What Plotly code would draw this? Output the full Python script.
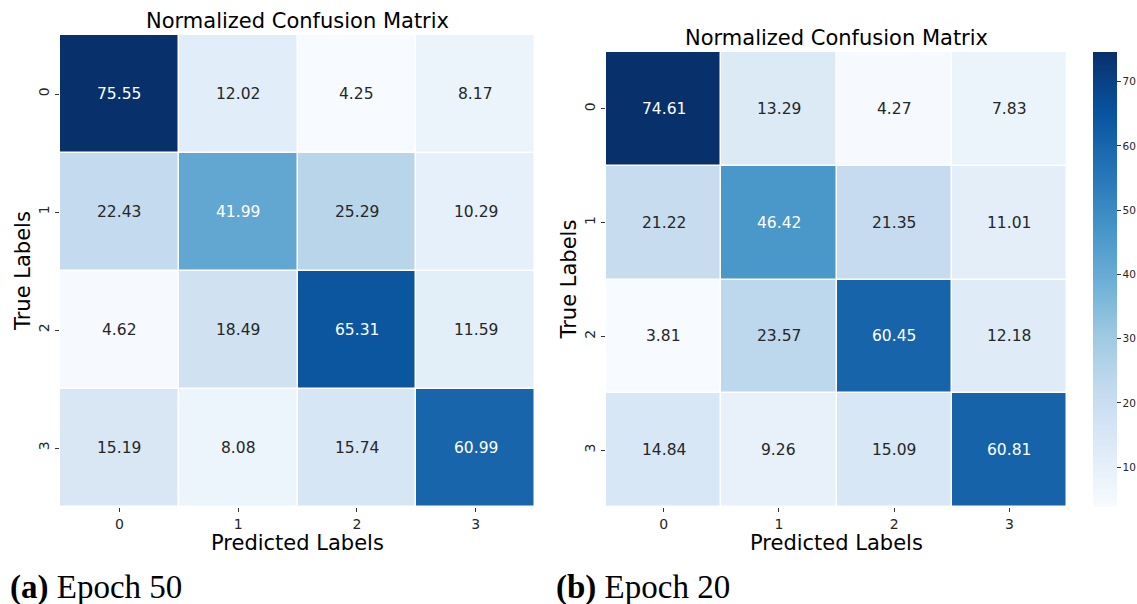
import plotly.graph_objects as go

# Class labels shared by both matrices
classes = ["0", "1", "2", "3"]

# Row-normalised confusion matrices (percent), rows = true label, cols = predicted
cm_epoch50 = [
    [75.55, 12.02, 4.25, 8.17],
    [22.43, 41.99, 25.29, 10.29],
    [4.62, 18.49, 65.31, 11.59],
    [15.19, 8.08, 15.74, 60.99],
]
cm_epoch20 = [
    [74.61, 13.29, 4.27, 7.83],
    [21.22, 46.42, 21.35, 11.01],
    [3.81, 23.57, 60.45, 12.18],
    [14.84, 9.26, 15.09, 60.81],
]

captions = ["<b>(a)</b> Epoch 50", "<b>(b)</b> Epoch 20"]
colorbar_ticks = [10, 20, 30, 40, 50, 60, 70]

# ColorBrewer "Blues" (same stops matplotlib uses)
blues = [
    [0.000, "rgb(247,251,255)"],
    [0.125, "rgb(222,235,247)"],
    [0.250, "rgb(198,219,239)"],
    [0.375, "rgb(158,202,225)"],
    [0.500, "rgb(107,174,214)"],
    [0.625, "rgb(66,146,198)"],
    [0.750, "rgb(33,113,181)"],
    [0.875, "rgb(8,81,156)"],
    [1.000, "rgb(8,48,107)"],
]

W, H = 1137, 604
FONT = "DejaVu Sans"


def px_x(v):
    return v / W


def px_y(v):
    return 1 - v / H


# pixel boxes of each heatmap: (left, right, top, bottom) and title centre y
boxes = [(60, 535, 35, 507), (606, 1067, 52, 507)]
title_y = [21, 38]
mats = [cm_epoch50, cm_epoch20]

fig = go.Figure()
annotations = []

for i, (m, box) in enumerate(zip(mats, boxes)):
    flat = [v for row in m for v in row]
    zmin, zmax = min(flat), max(flat)
    xa = "x" if i == 0 else "x2"
    ya = "y" if i == 0 else "y2"
    show_cb = i == 1
    fig.add_trace(go.Heatmap(
        z=m, x=classes, y=classes,
        colorscale=blues, zmin=zmin, zmax=zmax,
        xgap=1.5, ygap=1.5,
        xaxis=xa, yaxis=ya,
        showscale=show_cb,
        colorbar=dict(
            x=px_x(1093), xanchor="left", thickness=24, xpad=0, ypad=0,
            y=px_y(52), yanchor="top", len=455, lenmode="pixels",
            outlinewidth=0, ticks="outside", ticklen=4, tickwidth=1,
            tickcolor="#333", tickvals=colorbar_ticks,
            tickfont=dict(family=FONT, size=10.5, color="#262626"),
        ) if show_cb else None,
        hoverinfo="skip",
    ))

    # cell value labels, light text on dark cells
    for r, row in enumerate(m):
        for c, v in enumerate(row):
            frac = (v - zmin) / (zmax - zmin)
            col = "white" if frac > 0.5 else "#262626"
            annotations.append(dict(
                x=classes[c], y=classes[r], xref=xa, yref=ya,
                text=f"{v:.2f}", showarrow=False,
                font=dict(family=FONT, size=15.5, color=col),
            ))

    left, right, top, bottom = box
    cx = (left + right) / 2
    cy = (top + bottom) / 2
    # title
    annotations.append(dict(
        x=px_x(cx), y=px_y(title_y[i]), xref="paper", yref="paper",
        xanchor="center", yanchor="middle",
        text="Normalized Confusion Matrix", showarrow=False,
        font=dict(family=FONT, size=21, color="black"),
    ))
    # x axis title
    annotations.append(dict(
        x=px_x(cx), y=px_y(543), xref="paper", yref="paper",
        xanchor="center", yanchor="middle",
        text="Predicted Labels", showarrow=False,
        font=dict(family=FONT, size=21, color="black"),
    ))
    # y axis title
    annotations.append(dict(
        x=px_x(left - 37), y=px_y(cy), xref="paper", yref="paper",
        xanchor="center", yanchor="middle",
        text="True Labels", showarrow=False, textangle=-90,
        font=dict(family=FONT, size=21, color="black"),
    ))
    # sub-figure caption
    annotations.append(dict(
        x=px_x(8 if i == 0 else 554), y=px_y(587), xref="paper", yref="paper",
        xanchor="left", yanchor="middle", text=captions[i], showarrow=False,
        font=dict(family="Liberation Serif", size=33, color="black"),
    ))

axis_common = dict(
    showgrid=False, zeroline=False, showline=False,
    ticks="outside", ticklen=4, tickwidth=1, tickcolor="#333",
    tickfont=dict(family=FONT, size=14, color="#262626"),
    fixedrange=True,
)

layout_axes = {}
for i, box in enumerate(boxes):
    left, right, top, bottom = box
    sx = "" if i == 0 else "2"
    layout_axes[f"xaxis{sx}"] = dict(
        axis_common, domain=[px_x(left), px_x(right)],
        anchor=f"y{sx}", type="category",
    )
    layout_axes[f"yaxis{sx}"] = dict(
        axis_common, domain=[px_y(bottom), px_y(top)],
        anchor=f"x{sx}", type="category", autorange="reversed",
        tickangle=-90,
    )

fig.update_layout(
    width=W, height=H,
    margin=dict(l=0, r=0, t=0, b=0, autoexpand=False),
    paper_bgcolor="white", plot_bgcolor="white",
    annotations=annotations,
    **layout_axes,
)

fig.write_html("out.html")
